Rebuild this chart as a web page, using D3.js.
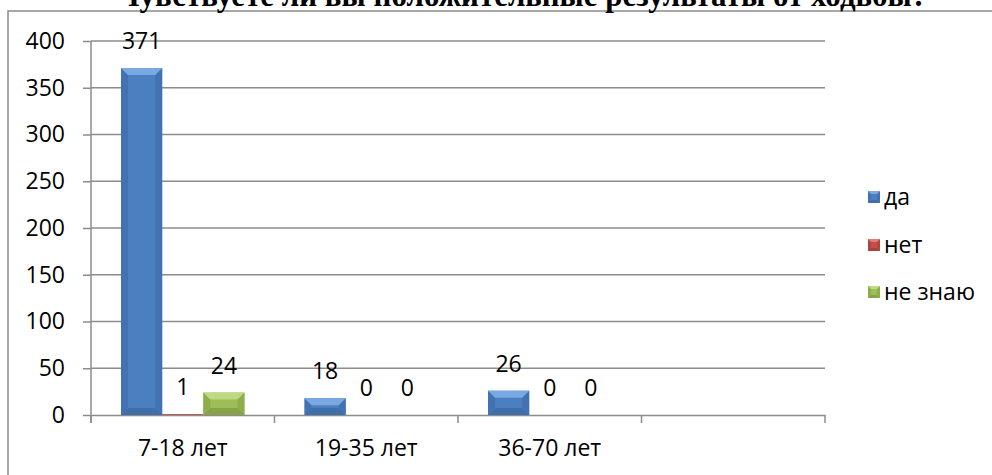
<!DOCTYPE html>
<html>
<head>
<meta charset="utf-8">
<script src="https://cdn.jsdelivr.net/npm/d3@7"></script>
<style>
  body { margin: 0; background: #fff; }
  text { font-family: "Open Sans", sans-serif; }
</style>
</head>
<body>
<script>
// данные диаграммы
const categories = ['7-18 лет', '19-35 лет', '36-70 лет', '']
const seriesNames = ['да', 'нет', 'не знаю']
const valuesDa = [371, 18, 26, null]
const valuesNet = [1, 0, 0, null]
const valuesNeZnayu = [24, 0, 0, null]
const yTicks = [0, 50, 100, 150, 200, 250, 300, 350, 400]
const title = 'Чувствуете ли вы положительные результаты от ходьбы?'

const W = 992, H = 475
const plot = { left: 91, right: 825, top: 41, bottom: 415 }
const colors = {
    'да': { main: '#4b80c0', top: '#7aa8e2', side: '#4273b0', bottom: '#3f6ea9' },
    'нет': { main: '#c4504d', top: '#de7d7a', side: '#b24541', bottom: '#a8403d' },
    'не знаю': { main: '#9cbd58', top: '#bfd883', side: '#8eae4c', bottom: '#86a447' }
}

let svg = d3.select('body').append('svg')
    .attr('width', W)
    .attr('height', H)

// рамка
svg.append('rect')
    .attr('x', 8).attr('y', 11)
    .attr('width', W + 10).attr('height', H + 10)
    .attr('fill', 'none')
    .attr('stroke', '#8c8c8c')
    .attr('stroke-width', 1.5)

// заголовок (обрезан сверху, как в оригинале)
svg.append('text')
    .attr('x', 522).attr('y', 6)
    .attr('text-anchor', 'middle')
    .style('font-family', '"Liberation Serif", "Times New Roman", serif')
    .style('font-weight', 'bold')
    .style('font-size', '31px')
    .text(title)

let x = d3.scaleBand()
    .domain(categories)
    .range([plot.left, plot.right])
let xs = d3.scaleBand()
    .domain(seriesNames)
    .range([0, x.bandwidth()])
    .paddingInner(0)
    .paddingOuter(0.73)
let y = d3.scaleLinear()
    .domain([0, 400])
    .range([plot.bottom, plot.top])

// сетка
svg.append('g').selectAll('line')
    .data(yTicks.filter(t => t > 0))
    .join('line')
    .attr('x1', plot.left).attr('x2', plot.right)
    .attr('y1', d => y(d)).attr('y2', d => y(d))
    .attr('stroke', '#8c8c8c')
    .attr('stroke-width', 1.5)

// ось Y
let yAxis = svg.append('g')
    .attr('transform', `translate(${plot.left},0)`)
    .call(d3.axisLeft(y).tickValues(yTicks).tickSize(8).tickSizeOuter(0).tickPadding(18))
yAxis.select('.domain').attr('stroke', '#8c8c8c').attr('stroke-width', 1.5)
    .attr('d', `M0,${plot.top}V${plot.bottom + 8}`)
yAxis.selectAll('.tick line').attr('stroke', '#8c8c8c').attr('stroke-width', 1.5)
yAxis.selectAll('text')
    .style('font-family', '"Open Sans", sans-serif')
    .style('font-size', '23px')
    .attr('fill', '#000')

// ось X
let xAxis = svg.append('g')
    .attr('transform', `translate(0,${plot.bottom})`)
    .call(d3.axisBottom(x).tickSize(0).tickPadding(25))
xAxis.select('.domain').attr('stroke', '#8c8c8c').attr('stroke-width', 1.5)
xAxis.selectAll('text')
    .style('font-family', '"Open Sans", sans-serif')
    .style('font-size', '23px')
    .attr('fill', '#000')
// деления между категориями
xAxis.append('g').selectAll('line')
    .data(categories.map(c => x(c)).concat([plot.right]))
    .join('line')
    .attr('x1', d => d).attr('x2', d => d)
    .attr('y1', 0).attr('y2', 8)
    .attr('stroke', '#8c8c8c')
    .attr('stroke-width', 1.5)

// объёмный столбик
function bevelBar(g, bx, by, bw, bh, c, bmax) {
    let b = Math.min(bmax, bh / 2, bw / 2)
    g.append('rect').attr('x', bx).attr('y', by).attr('width', bw).attr('height', bh).attr('fill', c.main)
    if (bh < 1.5) return
    g.append('polygon').attr('points', [[bx, by + bh], [bx + b, by + bh - b], [bx + bw - b, by + bh - b], [bx + bw, by + bh]].join(' ')).attr('fill', c.bottom)
    g.append('polygon').attr('points', [[bx, by], [bx + b, by + b], [bx + b, by + bh - b], [bx, by + bh]].join(' ')).attr('fill', c.side)
    g.append('polygon').attr('points', [[bx + bw, by], [bx + bw - b, by + b], [bx + bw - b, by + bh - b], [bx + bw, by + bh]].join(' ')).attr('fill', c.side)
    g.append('polygon').attr('points', [[bx, by], [bx + bw, by], [bx + bw - b, by + b], [bx + b, by + b]].join(' ')).attr('fill', c.top)
}

const seriesValues = [valuesDa, valuesNet, valuesNeZnayu]
let bars = svg.append('g')
let labels = svg.append('g')
seriesNames.forEach((s, si) => {
    categories.forEach((cat, ci) => {
        let v = seriesValues[si][ci]
        if (v == null) return
        let bx = x(cat) + xs(s)
        let bw = xs.bandwidth()
        let g = bars.append('g')
        bevelBar(g, bx, y(v), bw, y(0) - y(v), colors[s], 7)
        labels.append('text')
            .attr('x', bx + bw / 2)
            .attr('y', y(v) - 19)
            .attr('text-anchor', 'middle')
            .style('font-size', '23px')
            .text(v)
    })
})

// легенда
const legendY = [197, 245, 292]
let legend = svg.append('g')
seriesNames.forEach((s, i) => {
    let g = legend.append('g')
    bevelBar(g, 868, legendY[i] - 6, 12, 12, colors[s], 3)
    g.append('text')
        .attr('x', 884)
        .attr('y', legendY[i])
        .attr('dy', '0.35em')
        .style('font-size', '23px')
        .text(s)
})
</script>
</body>
</html>
